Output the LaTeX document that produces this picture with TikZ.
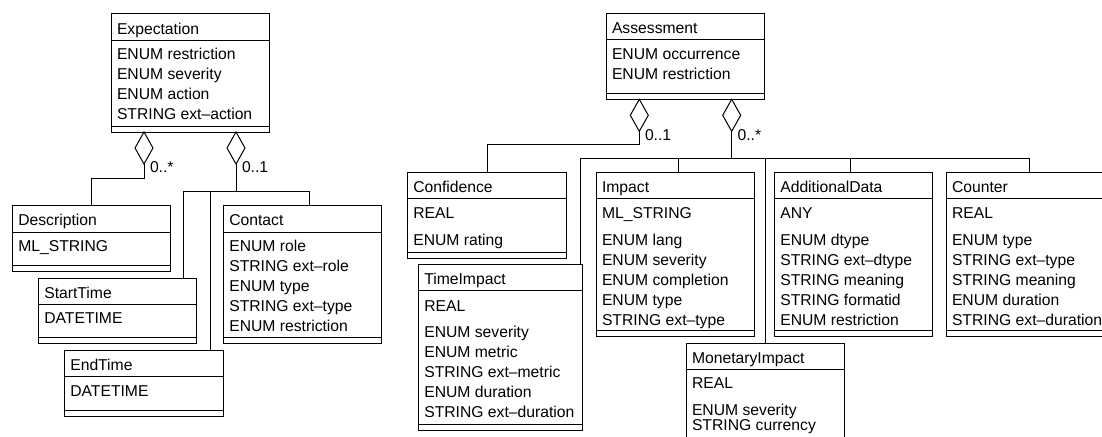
\documentclass[tikz,border=0pt]{standalone}
\usepackage{fontspec}
\setmainfont{Liberation Sans}
\usetikzlibrary{shapes.geometric}

\tikzset{
  classbox/.style={draw, rectangle, anchor=north west, inner sep=0pt, outer sep=0pt,
                   line width=1pt, fill=white},
  txt/.style={anchor=base west, inner sep=0pt, outer sep=0pt,
              font=\fontsize{15.7pt}{20pt}\selectfont},
  aggr/.style={draw, diamond, fill=white, anchor=north, minimum width=18pt,
               minimum height=32pt, inner sep=0pt, outer sep=0pt, line width=1pt},
  link/.style={line width=1pt},
}

% class box: name, left x, top y, width, height, class name
\newcommand{\umlclass}[6]{%
  \node[classbox, minimum width=#4pt, minimum height=#5pt] (#1) at (#2,#3) {};
  \node[txt] (#1-title) at (#2+6,#3+20.1) {#6};
  \draw[link] ([yshift=-26.5pt]#1.north west) -- ([yshift=-26.5pt]#1.north east);
  \draw[link] ([yshift=6pt]#1.south west) -- ([yshift=6pt]#1.south east);
}
% attribute lines: node prefix, left x of box, first baseline, list
\newcommand{\umlattrs}[4]{%
  \foreach \a [count=\i from 0] in {#4}
    \node[txt] (#1\i) at (#2+6,#3+20*\i) {\a};
}

\begin{document}
\begin{tikzpicture}[x=1pt, y=-1pt]
\useasboundingbox (0,0) rectangle (1102,436);
\fill[white] (0,0) rectangle (1102,436);
\clip (0,0) rectangle (1102,436);

% ---- Expectation and its parts ----
\umlclass{ex}{111}{14}{158.3}{118}{Expectation}
\umlattrs{ex-a}{111}{59.9}{ENUM restriction, ENUM severity, ENUM action, STRING ext\textendash action}

\umlclass{de}{12.3}{205.7}{158}{65.3}{Description}
\umlattrs{de-a}{12.3}{251.3}{ML\_STRING}

\umlclass{st}{38.3}{278.3}{158.4}{65}{StartTime}
\umlattrs{st-a}{38.3}{323.9}{DATETIME}

\umlclass{et}{64.3}{350}{159}{66}{EndTime}
\umlattrs{et-a}{64.3}{396.6}{DATETIME}

\umlclass{ct}{223.3}{205.7}{158.4}{137.6}{Contact}
\umlattrs{ct-a}{223.3}{251.3}{ENUM role, STRING ext\textendash role, ENUM type, STRING ext\textendash type, ENUM restriction}

% ---- Assessment and its parts ----
\umlclass{as}{606}{13.3}{158.3}{86}{Assessment}
\umlattrs{as-a}{606}{59.9}{ENUM occurrence, ENUM restriction}

\umlclass{cf}{407.3}{172.3}{159.4}{86}{Confidence}
\umlattrs{cf-v}{407.3}{218.9}{REAL}
\umlattrs{cf-a}{407.3}{245.6}{ENUM rating}

\umlclass{ti}{418.3}{264}{164.4}{166}{TimeImpact}
\umlattrs{ti-v}{418.3}{311.3}{REAL}
\umlattrs{ti-a}{418.3}{337.9}{ENUM severity, ENUM metric, STRING ext\textendash metric, ENUM duration, STRING ext\textendash duration}

\umlclass{im}{596}{172.3}{158}{164.4}{Impact}
\umlattrs{im-v}{596}{218.9}{ML\_STRING}
\umlattrs{im-a}{596}{245.6}{ENUM lang, ENUM severity, ENUM completion, ENUM type, STRING ext\textendash type}

\umlclass{ad}{774.3}{172.3}{158.4}{164.4}{AdditionalData}
\umlattrs{ad-v}{774.3}{218.9}{ANY}
\umlattrs{ad-a}{774.3}{245.6}{ENUM dtype, STRING ext\textendash dtype, STRING meaning, STRING formatid, ENUM restriction}

\umlclass{co}{946}{172.3}{165}{164.4}{Counter}
\umlattrs{co-v}{946}{218.9}{REAL}
\umlattrs{co-a}{946}{245.6}{ENUM type, STRING ext\textendash type, STRING meaning, ENUM duration, STRING ext\textendash duration}

\umlclass{mi}{686}{343.3}{158}{110}{MonetaryImpact}
\umlattrs{mi-v}{686}{388.9}{REAL}
\node[txt] (mi-a0) at (692,415.6) {ENUM severity};
\node[txt] (mi-a1) at (692,430.1) {STRING currency};

% ---- aggregation diamonds ----
\node[aggr] (d1) at (144,132) {};
\node[aggr] (d2) at (236,132) {};
\node[aggr] (d3) at (639.3,99.3) {};
\node[aggr] (d4) at (731.7,99.3) {};

% bends and junctions
\coordinate (kE) at (144,178.3);
\coordinate (jE) at (236,191.7);
\coordinate (kA) at (639.3,144.3);
\coordinate (jA) at (731.7,158.3);

% ---- connectors ----
\draw[link] (d1.south) -- (kE) -| (de.north);
\draw[link] (d2.south) -- (jE);
\draw[link] (jE) -| ([xshift=145.4pt]st.north west);
\draw[link] (jE) -| ([xshift=145.7pt]et.north west);
\draw[link] (jE) -| ([xshift=86pt]ct.north west);

\draw[link] (d3.south) -- (kA) -| (cf.north);
\draw[link] (d4.south) -- (jA);
\draw[link] (jA) -| ([xshift=161.7pt]ti.north west);
\draw[link] (jA) -| ([xshift=82.7pt]im.north west);
\draw[link] (jA) -| (mi.north);
\draw[link] (jA) -| ([xshift=75.7pt]ad.north west);
\draw[link] (jA) -| ([xshift=83pt]co.north west);

% ---- multiplicities ----
\node[txt] (m1) at (150,172.6) {0..*};
\node[txt] (m2) at (242,172.6) {0..1};
\node[txt] (m3) at (645,140.6) {0..1};
\node[txt] (m4) at (737.6,140.6) {0..*};
\end{tikzpicture}
\end{document}
